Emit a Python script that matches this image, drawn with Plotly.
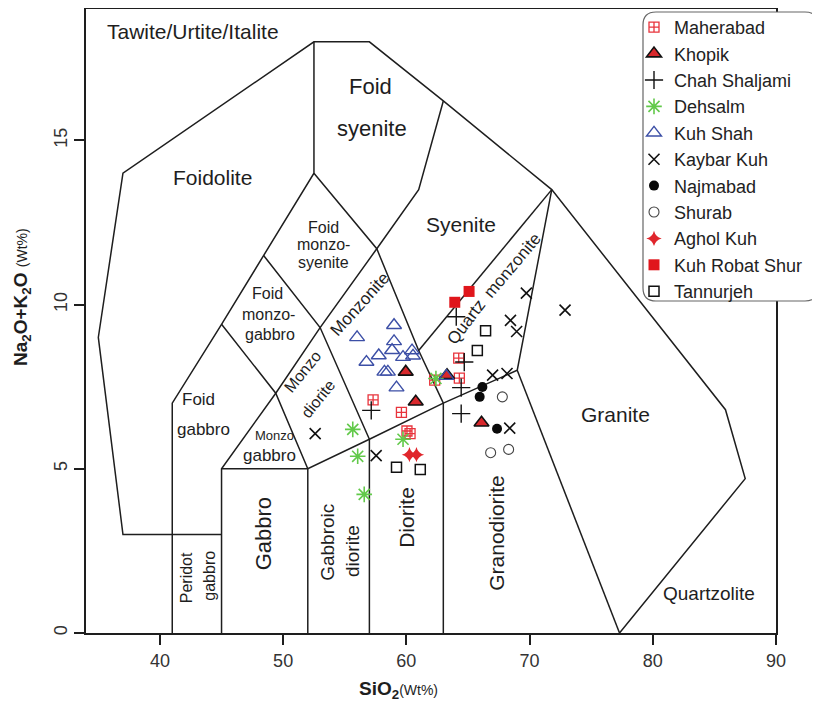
import plotly.graph_objects as go

# ---------------- data ----------------
maherabad_x = [57.3, 59.6, 62.3, 64.25, 64.3, 60.05, 60.3]
maherabad_y = [7.1, 6.72, 7.7, 8.37, 7.76, 6.15, 6.07]

khopik_x = [59.95, 60.76, 66.1, 63.3]
khopik_y = [7.95, 7.04, 6.4, 7.85]

chah_x = [57.15, 64.05, 64.7, 64.45, 64.45]
chah_y = [6.78, 9.63, 8.25, 7.47, 6.68]

dehsalm_x = [55.65, 59.73, 56.05, 56.58, 62.4]
dehsalm_y = [6.2, 5.9, 5.38, 4.22, 7.75]

kuhshah_x = [56.0, 59.0, 59.0, 58.84, 57.76, 56.76, 59.73, 60.46, 60.54, 58.22, 58.5, 59.2, 63.25]
kuhshah_y = [9.0, 9.37, 8.88, 8.61, 8.45, 8.25, 8.4, 8.6, 8.44, 7.95, 7.95, 7.47, 7.82]

kaybar_x = [52.6, 57.55, 67.0, 68.17, 68.39, 68.45, 68.95, 69.74, 72.88]
kaybar_y = [6.07, 5.4, 7.85, 7.9, 6.24, 9.52, 9.18, 10.35, 9.83]

najmabad_x = [66.17, 65.95, 67.36]
najmabad_y = [7.49, 7.19, 6.22]

shurab_x = [67.79, 66.84, 68.3]
shurab_y = [7.19, 5.49, 5.59]

aghol_x = [60.25, 60.82]
aghol_y = [5.43, 5.43]

robat_x = [63.93, 65.09]
robat_y = [10.07, 10.4]

tannurjeh_x = [66.43, 65.76, 59.2, 61.13]
tannurjeh_y = [9.2, 8.6, 5.05, 4.98]

# TAS (Middlemost 1994, plutonic) field boundaries, polylines of (SiO2, Na2O+K2O)
boundaries = [
    [(41, 3), (37, 3), (35, 9), (37, 14), (52.5, 18), (57, 18), (63, 16.2),
     (71.8, 13.5), (85.9, 6.8), (87.5, 4.7), (77.3, 0)],
    [(41, 0), (41, 7), (45, 9.4), (48.4, 11.5), (52.5, 14), (52.5, 18)],
    [(41, 3), (45, 3)],
    [(45, 0), (45, 5), (49.4, 7.3), (53, 9.3), (57.6, 11.7), (61, 13.5), (63, 16.2)],
    [(45, 5), (52, 5), (57, 5.9), (63, 7), (69, 8), (71.8, 13.5)],
    [(52, 0), (52, 5)],
    [(57, 0), (57, 5.9)],
    [(63, 0), (63, 7)],
    [(45, 9.4), (49.4, 7.3), (52, 5)],
    [(48.4, 11.5), (53, 9.3), (57, 5.9)],
    [(52.5, 14), (57.6, 11.7), (61, 8.6), (63, 7)],
    [(61, 8.6), (71.8, 13.5)],
    [(69, 8), (77.3, 0)],
]

# field labels: text, SiO2, alkali, angle, font size
field_labels = [
    ("Tawite/Urtite/Italite", 42.7, 18.3, 0, 21),
    ("Foid", 57.1, 16.63, 0, 22),
    ("syenite", 57.25, 15.37, 0, 22),
    ("Foidolite", 44.3, 13.88, 0, 21),
    ("Syenite", 64.4, 12.45, 0, 21),
    ("Foid", 53.25, 12.35, 0, 16),
    ("monzo-", 53.25, 11.82, 0, 16),
    ("syenite", 53.25, 11.28, 0, 16),
    ("Foid", 48.7, 10.33, 0, 16),
    ("monzo-", 48.8, 9.7, 0, 16),
    ("gabbro", 48.95, 9.09, 0, 16),
    ("Monzonite", 56.22, 10.0, -48, 17),
    ("Monzo", 51.6, 7.95, -51, 16),
    ("diorite", 52.85, 7.15, -51, 16),
    ("Quartz", 64.92, 9.47, -53, 17),
    ("monzonite", 68.6, 11.2, -50, 17),
    ("Foid", 43.1, 7.11, 0, 17),
    ("gabbro", 43.57, 6.2, 0, 17),
    ("Monzo", 49.33, 6.0, 0, 13),
    ("gabbro", 48.87, 5.41, 0, 17),
    ("Gabbro", 48.38, 3.01, -90, 22),
    ("Peridot", 42.15, 1.68, -90, 16),
    ("gabbro", 44.05, 1.74, -90, 16),
    ("Gabbroic", 53.65, 2.75, -90, 19),
    ("diorite", 55.68, 2.5, -90, 19),
    ("Diorite", 60.06, 3.51, -90, 21),
    ("Granodiorite", 67.3, 3.06, -90, 21),
    ("Granite", 77.0, 6.64, 0, 21),
    ("Quartzolite", 84.6, 1.19, 0, 19),
]

x_ticks = [40, 50, 60, 70, 80, 90]
y_ticks = [0, 5, 10, 15]

FONT = "Liberation Sans, Arial, sans-serif"
INK = "#1e1e1e"

# page is shown with an 8px body margin: figure is 812x705, plot area 78..768 x 1..625
W, H = 812, 705
L, R, T, B = 78, 44, 1, 80
PW, PH = W - L - R, H - T - B  # 690 x 624

fig = go.Figure()

# boundaries
bx, by = [], []
for line in boundaries:
    for (x, y) in line:
        bx.append(x)
        by.append(y)
    bx.append(None)
    by.append(None)
fig.add_trace(go.Scatter(x=bx, y=by, mode="lines", line=dict(color=INK, width=1.5),
                         showlegend=False, hoverinfo="skip"))

series = [
    ("Maherabad", maherabad_x, maherabad_y,
     dict(symbol="square-cross-open", size=10, color="#e8343c", line=dict(width=1.3, color="#e8343c"))),
    ("Khopik", khopik_x, khopik_y,
     dict(symbol="triangle-up", size=13, color="#d9282c", line=dict(width=1.6, color="#111111"))),
    ("Chah Shaljami", chah_x, chah_y,
     dict(symbol="cross-thin-open", size=13, color="#111111", line=dict(width=1.4, color="#111111"))),
    ("Dehsalm", dehsalm_x, dehsalm_y,
     dict(symbol="asterisk-open", size=13, color="#62c94a", line=dict(width=1.6, color="#62c94a"))),
    ("Kuh Shah", kuhshah_x, kuhshah_y,
     dict(symbol="triangle-up-open", size=13, color="#3c4fa6", line=dict(width=1.4, color="#3c4fa6"))),
    ("Kaybar Kuh", kaybar_x, kaybar_y,
     dict(symbol="x-thin-open", size=11, color="#111111", line=dict(width=1.6, color="#111111"))),
    ("Najmabad", najmabad_x, najmabad_y,
     dict(symbol="circle", size=10, color="#0a0a0a", line=dict(width=0))),
    ("Shurab", shurab_x, shurab_y,
     dict(symbol="circle-open", size=10, color="#444444", line=dict(width=1.1, color="#444444"))),
    ("Aghol Kuh", aghol_x, aghol_y,
     dict(symbol="star-diamond", size=11, color="#e0262c", line=dict(width=0))),
    ("Kuh Robat Shur", robat_x, robat_y,
     dict(symbol="square", size=11, color="#e0161c", line=dict(width=0))),
    ("Tannurjeh", tannurjeh_x, tannurjeh_y,
     dict(symbol="square-open", size=10, color="#111111", line=dict(width=1.5, color="#111111"))),
]
for name, xs, ys, mk in series:
    fig.add_trace(go.Scatter(x=xs, y=ys, mode="markers", name=name, marker=mk,
                             cliponaxis=False))

for text, x, y, ang, fs in field_labels:
    fig.add_annotation(x=x, y=y, xref="x", yref="y", text=text, showarrow=False,
                       textangle=ang, font=dict(family=FONT, size=fs, color=INK),
                       xanchor="center", yanchor="middle")


def px_x(p):  # page pixel -> paper x
    return (p - 8 - L) / PW


def px_y(p):  # page pixel -> paper y
    return (H - B - (p - 8)) / PH


# axis titles
fig.add_annotation(xref="paper", yref="paper", x=px_x(398), y=px_y(690), showarrow=False,
                   text="<b>SiO<sub>2</sub></b><span style='font-size:14px'>(Wt%)</span>",
                   font=dict(family=FONT, size=19, color=INK), xanchor="center", yanchor="middle")
fig.add_annotation(xref="paper", yref="paper", x=px_x(22), y=px_y(297), showarrow=False, textangle=-90,
                   text="<b>Na<sub>2</sub>O+K<sub>2</sub>O</b> <span style='font-size:14px'>(Wt%)</span>",
                   font=dict(family=FONT, size=19, color=INK), xanchor="center", yanchor="middle")

# rounded legend frame (paper coords)
x0, x1 = px_x(643), px_x(818)
y0, y1 = px_y(301), px_y(12)
rx, ry = 13 / PW, 13 / PH
path = (f"M {x0+rx},{y1} L {x1-rx},{y1} Q {x1},{y1} {x1},{y1-ry} "
        f"L {x1},{y0+ry} Q {x1},{y0} {x1-rx},{y0} L {x0+rx},{y0} "
        f"Q {x0},{y0} {x0},{y0+ry} L {x0},{y1-ry} Q {x0},{y1} {x0+rx},{y1} Z")
fig.add_shape(type="path", path=path, xref="paper", yref="paper", layer="above",
              fillcolor="white", line=dict(color="#666666", width=1.2))

axis_common = dict(showgrid=False, zeroline=False, showline=True, linecolor=INK, linewidth=2,
                   mirror=True, ticks="outside", ticklen=10, tickwidth=1.5, tickcolor=INK,
                   tickfont=dict(family=FONT, size=18, color="#333333"))
fig.update_xaxes(range=[34, 90], tickvals=x_ticks, ticktext=[str(v) for v in x_ticks],
                 **axis_common)
fig.update_yaxes(range=[0, 19], tickvals=y_ticks, ticktext=[str(v) for v in y_ticks],
                 tickangle=-90, **axis_common)

fig.update_layout(
    width=W, height=H,
    margin=dict(l=L, r=R, t=T, b=B, autoexpand=False),
    paper_bgcolor="white", plot_bgcolor="white",
    showlegend=True,
    legend=dict(x=px_x(634), y=px_y(9), xanchor="left", yanchor="top",
                bgcolor="rgba(0,0,0,0)", borderwidth=0,
                font=dict(family=FONT, size=18, color="#222222"),
                itemsizing="trace", tracegroupgap=0),
    font=dict(family=FONT, color=INK),
)

fig.write_html("out.html")
